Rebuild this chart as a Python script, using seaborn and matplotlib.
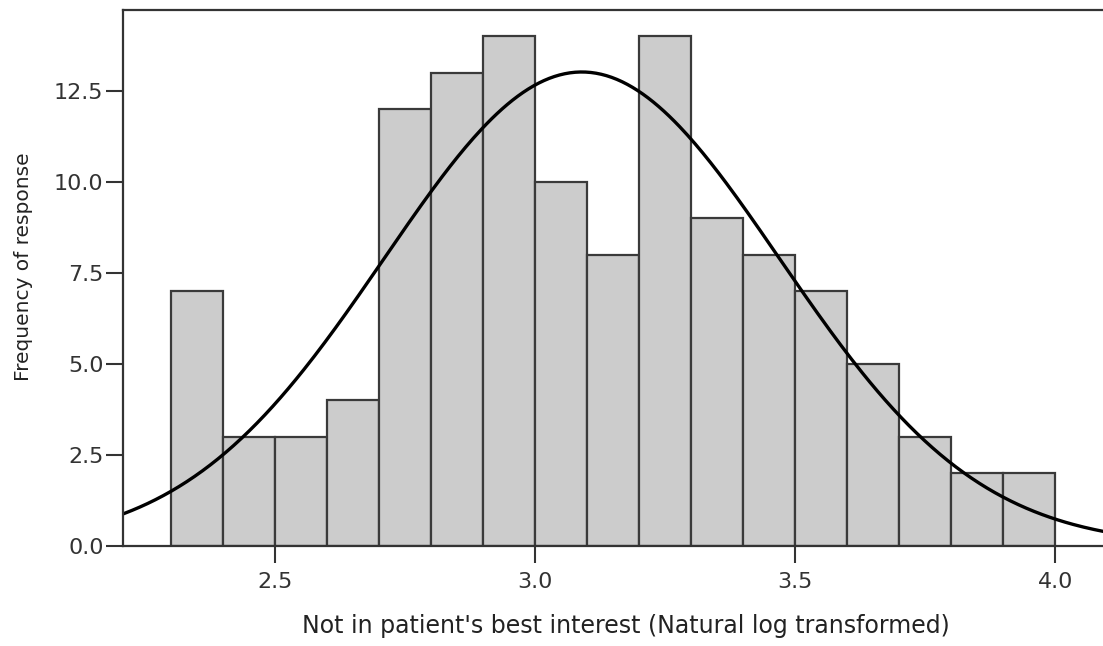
import numpy as np
import pandas as pd
import matplotlib
matplotlib.use("Agg")
import matplotlib.pyplot as plt
import seaborn as sns

bin_edges = [2.3, 2.4, 2.5, 2.6, 2.7, 2.8, 2.9, 3.0, 3.1, 3.2, 3.3, 3.4, 3.5, 3.6, 3.7, 3.8, 3.9, 4.0]
counts = [7, 3, 3, 4, 12, 13, 14, 10, 8, 14, 9, 8, 7, 5, 3, 2, 2]
curve_mean = 3.09
curve_sd = 0.38
x_ticks = [2.5, 3.0, 3.5, 4.0]
y_ticks = [0.0, 2.5, 5.0, 7.5, 10.0, 12.5]
x_label = "Not in patient's best interest (Natural log transformed)"
y_label = "Frequency of response"

sns.set_style("white")
plt.rcParams['font.family'] = ['DejaVu Sans']

centers = [(a + b) / 2 for a, b in zip(bin_edges[:-1], bin_edges[1:])]
df = pd.DataFrame({"x": centers, "w": counts})

fig = plt.figure(figsize=(11.03, 6.46), dpi=100)
ax = fig.add_axes([0.1115, 0.1548, 0.8885, 0.8297])

sns.histplot(data=df, x="x", weights="w", bins=bin_edges, ax=ax,
             color="#cccccc", edgecolor="#3a3a3a", linewidth=1.6, alpha=1.0)

n = sum(counts)
bw = bin_edges[1] - bin_edges[0]
xs = np.linspace(2.15, 4.15, 400)
ys = n * bw * np.exp(-0.5 * ((xs - curve_mean) / curve_sd) ** 2) / (curve_sd * np.sqrt(2 * np.pi))
sns.lineplot(x=xs, y=ys, ax=ax, color="black", linewidth=2.4)

ax.set_xlim(2.208, 4.092)
ax.set_ylim(0, 14.72)
ax.set_xticks(x_ticks)
ax.set_xticklabels([f"{v:.1f}" for v in x_ticks])
ax.set_yticks(y_ticks)
ax.set_yticklabels([f"{v:.1f}" for v in y_ticks])
ax.tick_params(axis="both", direction="out", length=12, width=1.5, color="#333333",
               labelsize=16, labelcolor="#333333")
ax.tick_params(axis="x", pad=7)
ax.tick_params(axis="y", pad=2)
ax.tick_params(left=True, bottom=True)
ax.set_xlabel(x_label, fontsize=17, color="#222222")
ax.xaxis.set_label_coords(0.513, -0.126)
ax.set_ylabel(y_label, fontsize=14.5, color="#222222")
ax.yaxis.set_label_coords(-0.092, 0.522)

for s in ["left", "bottom", "top"]:
    ax.spines[s].set_visible(True)
    ax.spines[s].set_color("#333333")
    ax.spines[s].set_linewidth(1.6)
ax.spines["right"].set_visible(False)

fig.savefig("out.png", dpi=100)
